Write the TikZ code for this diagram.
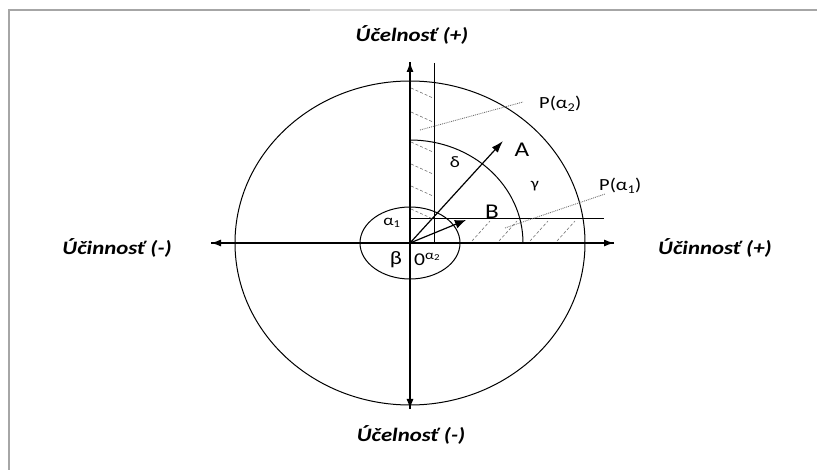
\documentclass[tikz,border=0pt]{standalone}
\usepackage{fontspec}
\setmainfont{Carlito}[FakeStretch=1.2]
\usetikzlibrary{arrows.meta, positioning}

\begin{document}
\begin{tikzpicture}[x=1pt, y=-1pt,
    axis/.style={-{Latex[length=10pt,width=7pt]}, line width=1.2pt},
    curve/.style={line width=1pt},
    hatch/.style={gray!90!black, densely dashed, line width=0.6pt},
    pointer/.style={gray!90!black, densely dotted, line width=0.9pt},
    axisname/.style={font=\bfseries\itshape\fontsize{19}{20}\selectfont, inner sep=0pt},
    sym/.style={font=\fontsize{16}{17}\selectfont, inner sep=0pt},
    pname/.style={font=\fontsize{17}{18}\selectfont, inner sep=0pt, anchor=west}
  ]
  \useasboundingbox (0,0) rectangle (817,470);
  % frame
  \draw[gray!70, line width=2pt] (9,470) -- (9,10) -- (310,10);
  \draw[gray!30, line width=2pt] (310,10) -- (510,10);
  \draw[gray!70, line width=2pt] (510,10) -- (817,10);

  \coordinate (O) at (410,243);
  \coordinate (L) at (211,243);
  \coordinate (R) at (614,243);
  \coordinate (T) at (410,62);
  \coordinate (D) at (410,409);

  % outer and inner ellipse
  \draw[curve] (O) ellipse[x radius=175, y radius=162];
  \draw[curve] (O) ellipse[x radius=50, y radius=36];
  \draw[curve] (410,140) arc[start angle=-90, end angle=0, x radius=113, y radius=103];

  % strips
  \draw[curve] (434,63) -- (434,243);
  \draw[curve] (410,219) -- (604,219);
  \foreach \y in {88,112,142,164,186,209}
    \draw[hatch] (411,\y) -- (433,\y+10);
  \foreach \x in {472,499,530,557}
    \draw[hatch] (\x,241) -- (\x+18,221);

  % axes
  \draw[axis] (L) -- (R);
  \draw[axis] (R) -- (L);
  \draw[axis] (D) -- (T);
  \draw[axis] (T) -- (D);

  % vectors
  \coordinate (Atip) at (503,141);
  \coordinate (Btip) at (466,220);
  \draw[axis, -{Latex[length=12pt,width=8pt]}] (O) -- (Atip);
  \draw[axis, -{Latex[length=11pt,width=9pt]}] (O) -- (Btip);

  % axis names
  \node[axisname] (up) at (412,35) {Účelnosť (+)};
  \node[axisname] (down) at (411,435) {Účelnosť (-)};
  \node[axisname] (left) at (117,248) {Účinnosť (-)};
  \node[axisname] (right) at (715,248) {Účinnosť (+)};

  % symbols
  \node[sym, font=\fontsize{21}{22}\selectfont] (A) at (522,150) {A};
  \node[sym, font=\fontsize{21}{22}\selectfont] (B) at (492,212) {B};
  \node[sym] (delta) at (455,162) {δ};
  \node[sym, font=\fontsize{15}{16}\selectfont] (gamma) at (535,186) {γ};
  \node[sym, font=\fontsize{15}{16}\selectfont] (alpha1) at (392,223) {α\textsubscript{1}};
  \node[sym, font=\fontsize{19}{20}\selectfont] (beta) at (396,260) {β};
  \node[sym, anchor=west, font=\fontsize{18}{19}\selectfont] (zero) at (414,259) {0\raisebox{6pt}{\fontsize{13}{13}\selectfont α\textsubscript{2}}};

  % points
  \node[pname] (P2) at (539,104) {P(α\textsubscript{2})};
  \node[pname] (P1) at (599,186) {P(α\textsubscript{1})};
  \coordinate (p2from) at (420,130);
  \coordinate (p2to) at (523,102);
  \coordinate (p1from) at (505,228);
  \coordinate (p1to) at (605,194);
  \draw[pointer] (p2from) -- (p2to);
  \draw[pointer] (p1from) -- (p1to);
\end{tikzpicture}
\end{document}
